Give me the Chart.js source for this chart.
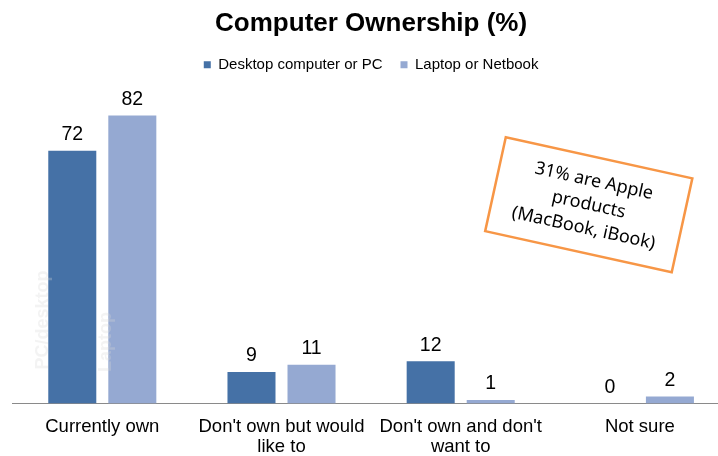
<!DOCTYPE html>
<html>
<head>
<meta charset="utf-8">
<script src="https://cdn.jsdelivr.net/npm/chart.js@4/dist/chart.umd.min.js"></script>
<style>
    html, body { margin: 0; padding: 0; background: #fff; overflow: hidden; }
    #wrap { position: absolute; left: 0; top: 0; width: 742px; height: 456px; }
</style>
</head>
<body>
<div id="wrap"><canvas id="grafico_posse"></canvas></div>
<script>
// chart values
let categories = [
    "Currently own",
    ["Don't own but would", "like to"],
    ["Don't own and don't", "want to"],
    "Not sure",
];
let series_labels = ["Desktop computer or PC", "Laptop or Netbook"];
let desktop_values = [72, 9, 12, 0];
let laptop_values = [82, 11, 1, 2];
let series_colors = ["#4571A6", "#95A9D2"];

// callout text + faint watermark words
let note_lines = ["31% are Apple", "products", "(MacBook, iBook)"];
let watermark_labels = ["PC/desktop", "Laptop"];

const FONT = "Arial, 'Liberation Sans', sans-serif";

// value numbers above every bar
const valores_plugin = {
    id: "valores",
    afterDatasetsDraw(chart) {
        const ctx = chart.ctx;
        ctx.save();
        ctx.font = "19.5px " + FONT;
        ctx.fillStyle = "#000";
        ctx.textAlign = "center";
        ctx.textBaseline = "middle";
        chart.data.datasets.forEach((ds, i) => {
            chart.getDatasetMeta(i).data.forEach((bar, j) => {
                ctx.fillText(ds.data[j], bar.x, bar.y - 16);
            });
        });
        ctx.restore();
    },
};

// faint rotated watermark + orange callout box
const extras_plugin = {
    id: "extras",
    afterDatasetsDraw(chart) {
        const ctx = chart.ctx;
        ctx.save();
        ctx.font = "bold 18px " + FONT;
        ctx.fillStyle = "rgba(215,215,215,0.3)";
        ctx.textAlign = "center";
        ctx.textBaseline = "middle";
        const marcas = [[43, 320], [106, 342]];
        watermark_labels.forEach((txt, i) => {
            ctx.save();
            ctx.translate(marcas[i][0], marcas[i][1]);
            ctx.rotate(-Math.PI / 2);
            ctx.fillText(txt, 0, 0);
            ctx.restore();
        });
        ctx.restore();

        ctx.save();
        ctx.translate(588.75, 204.75);
        ctx.rotate((12.4 * Math.PI) / 180);
        ctx.fillStyle = "#fff";
        ctx.fillRect(-95.5, -48, 191, 96);
        ctx.strokeStyle = "#F79646";
        ctx.lineWidth = 2.5;
        ctx.strokeRect(-95.5, -48, 191, 96);
        ctx.fillStyle = "#000";
        ctx.font = "18px 'Noto Sans', sans-serif";
        ctx.textAlign = "center";
        ctx.textBaseline = "middle";
        note_lines.forEach((linha, i) => {
            ctx.fillText(linha, 0, (i - 1) * 24);
        });
        ctx.restore();
    },
};

new Chart("grafico_posse", {
    type: "bar",
    data: {
        labels: categories,
        datasets: [
            {
                label: series_labels[0],
                data: desktop_values,
                backgroundColor: series_colors[0],
                categoryPercentage: 0.67,
                barPercentage: 0.8,
            },
            {
                label: series_labels[1],
                data: laptop_values,
                backgroundColor: series_colors[1],
                categoryPercentage: 0.67,
                barPercentage: 0.8,
            },
        ],
    },
    options: {
        responsive: true,
        maintainAspectRatio: false,
        animation: false,
        layout: {
            padding: { left: 12.7, right: 12.5, top: 0, bottom: 0 },
        },
        plugins: {
            title: {
                display: true,
                text: "Computer Ownership (%)",
                color: "#000",
                font: { family: FONT, size: 26, weight: "bold" },
                padding: { top: 8, bottom: 0 },
            },
            legend: {
                display: true,
                labels: {
                    color: "#000",
                    boxWidth: 7,
                    boxHeight: 7,
                    padding: 18,
                    font: { family: FONT, size: 15 },
                },
            },
            tooltip: { enabled: false },
        },
        scales: {
            y: {
                display: false,
                min: 0,
                max: 91.5,
            },
            x: {
                grid: { display: false, drawTicks: false },
                border: { display: true, color: "#8a8a8a", width: 1 },
                ticks: {
                    color: "#000",
                    padding: 13.5,
                    maxRotation: 0,
                    autoSkip: false,
                    font: { family: FONT, size: 18.5, lineHeight: 1.08 },
                },
                afterFit: (scale) => {
                    scale.height = 52.5;
                },
            },
        },
    },
    plugins: [valores_plugin, extras_plugin],
});
</script>
</body>
</html>
